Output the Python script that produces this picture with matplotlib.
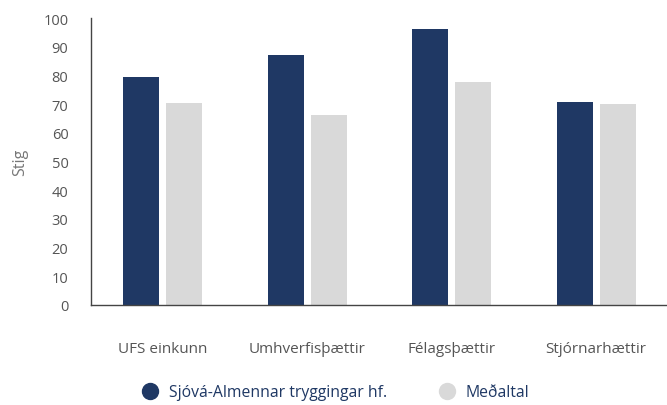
import numpy as np
import matplotlib.pyplot as plt
from matplotlib.lines import Line2D

categories = ["UFS einkunn", "Umhverfisþættir", "Félagsþættir", "Stjórnarhættir"]
sjova = [79.3, 87.2, 96.3, 70.7]
medaltal = [70.4, 66.2, 77.8, 70.1]
series_names = ["Sjóvá-Almennar tryggingar hf.", "Meðaltal"]
y_ticks = list(range(0, 101, 10))

dark = "#1f3864"
light = "#d9d9d9"
text_gray = "#555555"

plt.rcParams["font.family"] = ["Open Sans", "DejaVu Sans"]

fig = plt.figure(figsize=(6.67, 4.06), dpi=100)
ax = fig.add_axes([0.136, 0.247, 0.866, 0.706])

x = np.arange(len(categories))
w = 0.249
off = 0.149
ax.bar(x - off, sjova, width=w, color=dark, zorder=2)
ax.bar(x + off, medaltal, width=w, color=light, zorder=2)

ax.set_xlim(-0.5, len(categories) - 0.5)
ax.set_ylim(0, 100)
ax.set_yticks(y_ticks)
ax.set_xticks(x)
ax.set_xticklabels(categories, fontsize=11)
ax.tick_params(axis="both", length=0, colors=text_gray)
ax.tick_params(axis="y", pad=16, labelsize=10.5)
ax.tick_params(axis="x", pad=26)

for side in ["top", "right"]:
    ax.spines[side].set_visible(False)
for side in ["left", "bottom"]:
    ax.spines[side].set_color("#444444")
    ax.spines[side].set_linewidth(1.0)

ax.set_ylabel("Stig", fontsize=11.5, color="#777777", labelpad=11)

handles = [
    Line2D([], [], marker="o", linestyle="", markersize=11.5, color=dark),
    Line2D([], [], marker="o", linestyle="", markersize=11.5, color=light),
]
leg = fig.legend(handles, series_names, loc="center", ncol=2, frameon=False,
                 bbox_to_anchor=(0.502, 0.032), fontsize=11.3,
                 handlelength=1.2, handletextpad=0.6, columnspacing=3.2)
for t in leg.get_texts():
    t.set_color(dark)

fig.savefig("out.png", dpi=100)
